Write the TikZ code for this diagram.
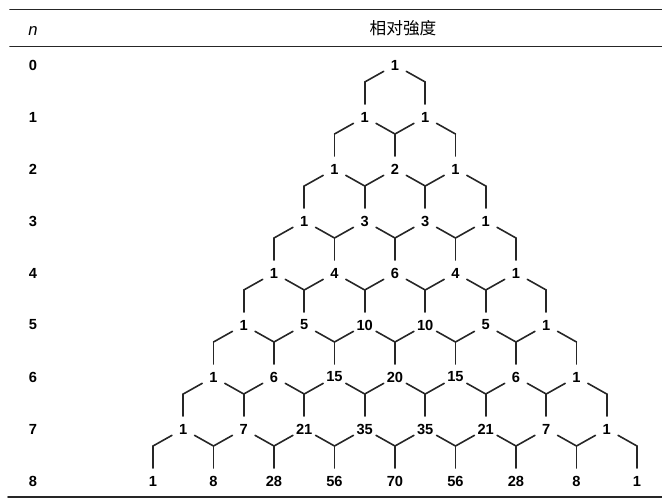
\documentclass[tikz,border=0pt]{standalone}
\usepackage{fontspec}
\setmainfont{Liberation Sans}
\newfontfamily\cjk{Noto Sans CJK SC}
\usepackage{tikz}
\usetikzlibrary{calc}

\begin{document}
\begin{tikzpicture}[
  x=0.75pt,y=-0.75pt,
  line cap=round,line join=round
]
  \tikzset{
    rule/.style={line width=1.4pt, draw=black!85},
    link/.style={line width=1.2pt, draw=black!85},
    num/.style={circle,inner sep=0pt,minimum size=19pt,font=\bfseries\fontsize{11}{13}\selectfont},
    rowlab/.style={font=\bfseries\fontsize{11}{13}\selectfont}
  }
  \useasboundingbox (0,0) rectangle (662,499);

  % Table rules and header
  \draw[rule] (10,9.5) -- (662,9.5);
  \draw[rule] (10,46.5) -- (662,46.5);
  \draw[rule] (8,497) -- (662,497);
  \node[anchor=base,font=\itshape\fontsize{12.5}{14}\selectfont] (hn) at (33,36) {n};
  \node[anchor=base,font=\cjk\fontsize{12.5}{14}\selectfont] (hint) at (403,35) {相对強度};

  % Rows of the triangle
  \foreach \row [count=\n from 0] in {
      {1},{1,1},{1,2,1},{1,3,3,1},{1,4,6,4,1},{1,5,10,10,5,1},
      {1,6,15,20,15,6,1},{1,7,21,35,35,21,7,1},{1,8,28,56,70,56,28,8,1}}{
    \node[rowlab] (n-\n) at (33,65+52*\n) {\n};
    \foreach \v [count=\k from 0] in \row {
      \node[num] (p-\n-\k) at (395+60.5*\k-30.25*\n,65+52*\n) {\v};
    }
  }

  % Junctions and links between rows
  \foreach \n in {1,...,8}{
    \pgfmathtruncatemacro{\m}{\n-1}
    \foreach \k in {0,...,\n}{
      \coordinate (j-\n-\k) at ($(p-\n-\k.center)+(0,-35)$);
      \draw[link] (p-\n-\k) -- (j-\n-\k);
      \ifnum\k>0
        \pgfmathtruncatemacro{\l}{\k-1}
        \draw[link] (p-\m-\l) -- (j-\n-\k);
      \fi
      \ifnum\k<\n
        \draw[link] (p-\m-\k) -- (j-\n-\k);
      \fi
    }
  }
\end{tikzpicture}
\end{document}
